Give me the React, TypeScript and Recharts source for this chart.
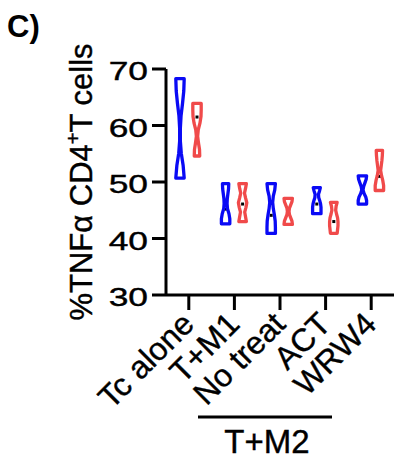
import { ComposedChart, Bar, XAxis, YAxis } from 'recharts';

const categories = ['Tc alone', 'T+M1', 'No treat', 'ACT', 'WRW4'];
const yTicks = [30, 40, 50, 60, 70];

// blue group (left violin of each pair)
const blueMin = [50.7, 42.6, 40.9, 44.4, 46.1];
const blueMax = [68.3, 49.7, 49.7, 49.0, 51.1];
const blueMedian = [59.5, 45.2, 44.1, 46.1, 48.3];
// relative density, top (max) to bottom (min)
const blueDensity = [
  [1, 0.9, 0.6, 0.25, 0.08, 0.08, 0.3, 0.75, 1],
  [0.75, 0.7, 0.55, 0.4, 0.35, 0.45, 0.8, 1, 1],
  [1, 0.85, 0.5, 0.35, 0.5, 0.75, 0.95, 1, 1],
  [0.85, 0.65, 0.4, 0.45, 0.7, 0.9, 1, 1, 1],
  [1, 0.9, 0.6, 0.3, 0.15, 0.4, 0.8, 1, 1],
];

// red group (right violin of each pair)
const redMin = [54.6, 43.0, 42.5, 40.9, 48.5];
const redMax = [63.9, 49.7, 47.1, 46.4, 55.6];
const redMedian = [61.5, 46.1, 44.8, 43.0, 51.0];
const redDensity = [
  [1, 1, 0.95, 0.7, 0.3, 0.15, 0.35, 0.6, 0.65],
  [0.9, 0.7, 0.45, 0.7, 1, 0.8, 0.5, 0.7, 0.9],
  [1, 0.9, 0.6, 0.3, 0.2, 0.3, 0.6, 0.9, 1],
  [0.8, 0.55, 0.45, 0.65, 0.9, 1, 1, 0.9, 0.8],
  [0.75, 0.7, 0.6, 0.45, 0.3, 0.5, 0.8, 1, 1],
];

const BLUE = '#0a0af5';
const RED = '#f04a4a';
const FONT = '"Liberation Sans", Arial, sans-serif';

const data = categories.map((cat, i) => ({
  cat,
  blue: [blueMin[i], blueMax[i]],
  blueMed: blueMedian[i],
  blueDen: blueDensity[i],
  red: [redMin[i], redMax[i]],
  redMed: redMedian[i],
  redDen: redDensity[i],
}));

const HALF = 4.2;

function makeViolin(key: 'blue' | 'red', color: string) {
  return (props: any) => {
    const { x, y, width, height, payload } = props;
    const cx = x + width / 2;
    const [lo, hi] = payload[key];
    const dens: number[] = payload[key + 'Den'];
    const med: number = payload[key + 'Med'];
    const n = dens.length;
    const pts = dens.map((d, i) => ({
      y: y + (height * i) / (n - 1),
      w: Math.max(0.3, d * HALF),
    }));
    let path = `M${cx - pts[0].w},${pts[0].y}`;
    pts.forEach(p => (path += ` L${cx - p.w},${p.y}`));
    for (let i = n - 1; i >= 0; i--) path += ` L${cx + pts[i].w},${pts[i].y}`;
    path += ' Z';
    const my = y + (height * (hi - med)) / (hi - lo);
    return (
      <g>
        <rect x={cx - 1.5} y={my - 1.5} width={3} height={3} fill="#000" />
        <path d={path} fill="none" stroke={color} strokeWidth={3.3} strokeLinejoin="round" />
      </g>
    );
  };
}

const XTick = (props: any) => {
  const { x, y, payload } = props;
  const tx = x + 7;
  const ty = y + 14;
  return (
    <text
      x={tx}
      y={ty}
      transform={`rotate(-45, ${tx}, ${ty})`}
      textAnchor="end"
      fontSize={32}
      fontFamily={FONT}
      fill="#000"
      stroke="#000"
      strokeWidth={0.4}
    >
      {payload.value}
    </text>
  );
};

const YTick = (props: any) => {
  const { y, payload } = props;
  return (
    <text
      transform={`translate(148, ${y + 11}) scale(1.36, 1)`}
      textAnchor="end"
      fontSize={26}
      fontFamily={FONT}
      fill="#000"
      stroke="#000"
      strokeWidth={0.4}
    >
      {payload.value}
    </text>
  );
};

export default function App() {
  return (
    <div style={{ position: 'relative', width: 394, height: 461, background: '#fff' }}>
      <style>{'body{margin:0}'}</style>
      <ComposedChart
        width={394}
        height={461}
        data={data}
        margin={{ top: 69, right: 0, bottom: 106, left: 0 }}
        barSize={10}
        barGap={7}
      >
        <XAxis
          dataKey="cat"
          height={60}
          interval={0}
          tickSize={15}
          axisLine={{ stroke: '#000', strokeWidth: 3 }}
          tickLine={{ stroke: '#000', strokeWidth: 3 }}
          tick={<XTick />}
        />
        <YAxis
          width={166}
          domain={[30, 70]}
          ticks={yTicks}
          interval={0}
          tickSize={14}
          axisLine={{ stroke: '#000', strokeWidth: 3 }}
          tickLine={{ stroke: '#000', strokeWidth: 3 }}
          tick={<YTick />}
        />
        <Bar dataKey="blue" isAnimationActive={false} shape={makeViolin('blue', BLUE)} />
        <Bar dataKey="red" isAnimationActive={false} shape={makeViolin('red', RED)} />
      </ComposedChart>
      <svg
        width={394}
        height={461}
        style={{ position: 'absolute', left: 0, top: 0, pointerEvents: 'none' }}
      >
        <text x={7} y={37} fontSize={31} fontWeight="bold" fontFamily={FONT} fill="#000">
          C)
        </text>
        <text
          x={92}
          y={182}
          transform="rotate(-90, 92, 182)"
          textAnchor="middle"
          fontSize={31}
          fontFamily={FONT}
          fill="#000"
          stroke="#000"
          strokeWidth={0.4}
        >
          %TNFα CD4
          <tspan dy={-12} fontSize={20}>+</tspan>
          <tspan dy={12}>T cells</tspan>
        </text>
        <line x1={198} y1={417} x2={332} y2={417} stroke="#000" strokeWidth={3} />
        <text
          x={267}
          y={453}
          textAnchor="middle"
          fontSize={33}
          fontFamily={FONT}
          fill="#000"
          stroke="#000"
          strokeWidth={0.4}
        >
          T+M2
        </text>
      </svg>
    </div>
  );
}
